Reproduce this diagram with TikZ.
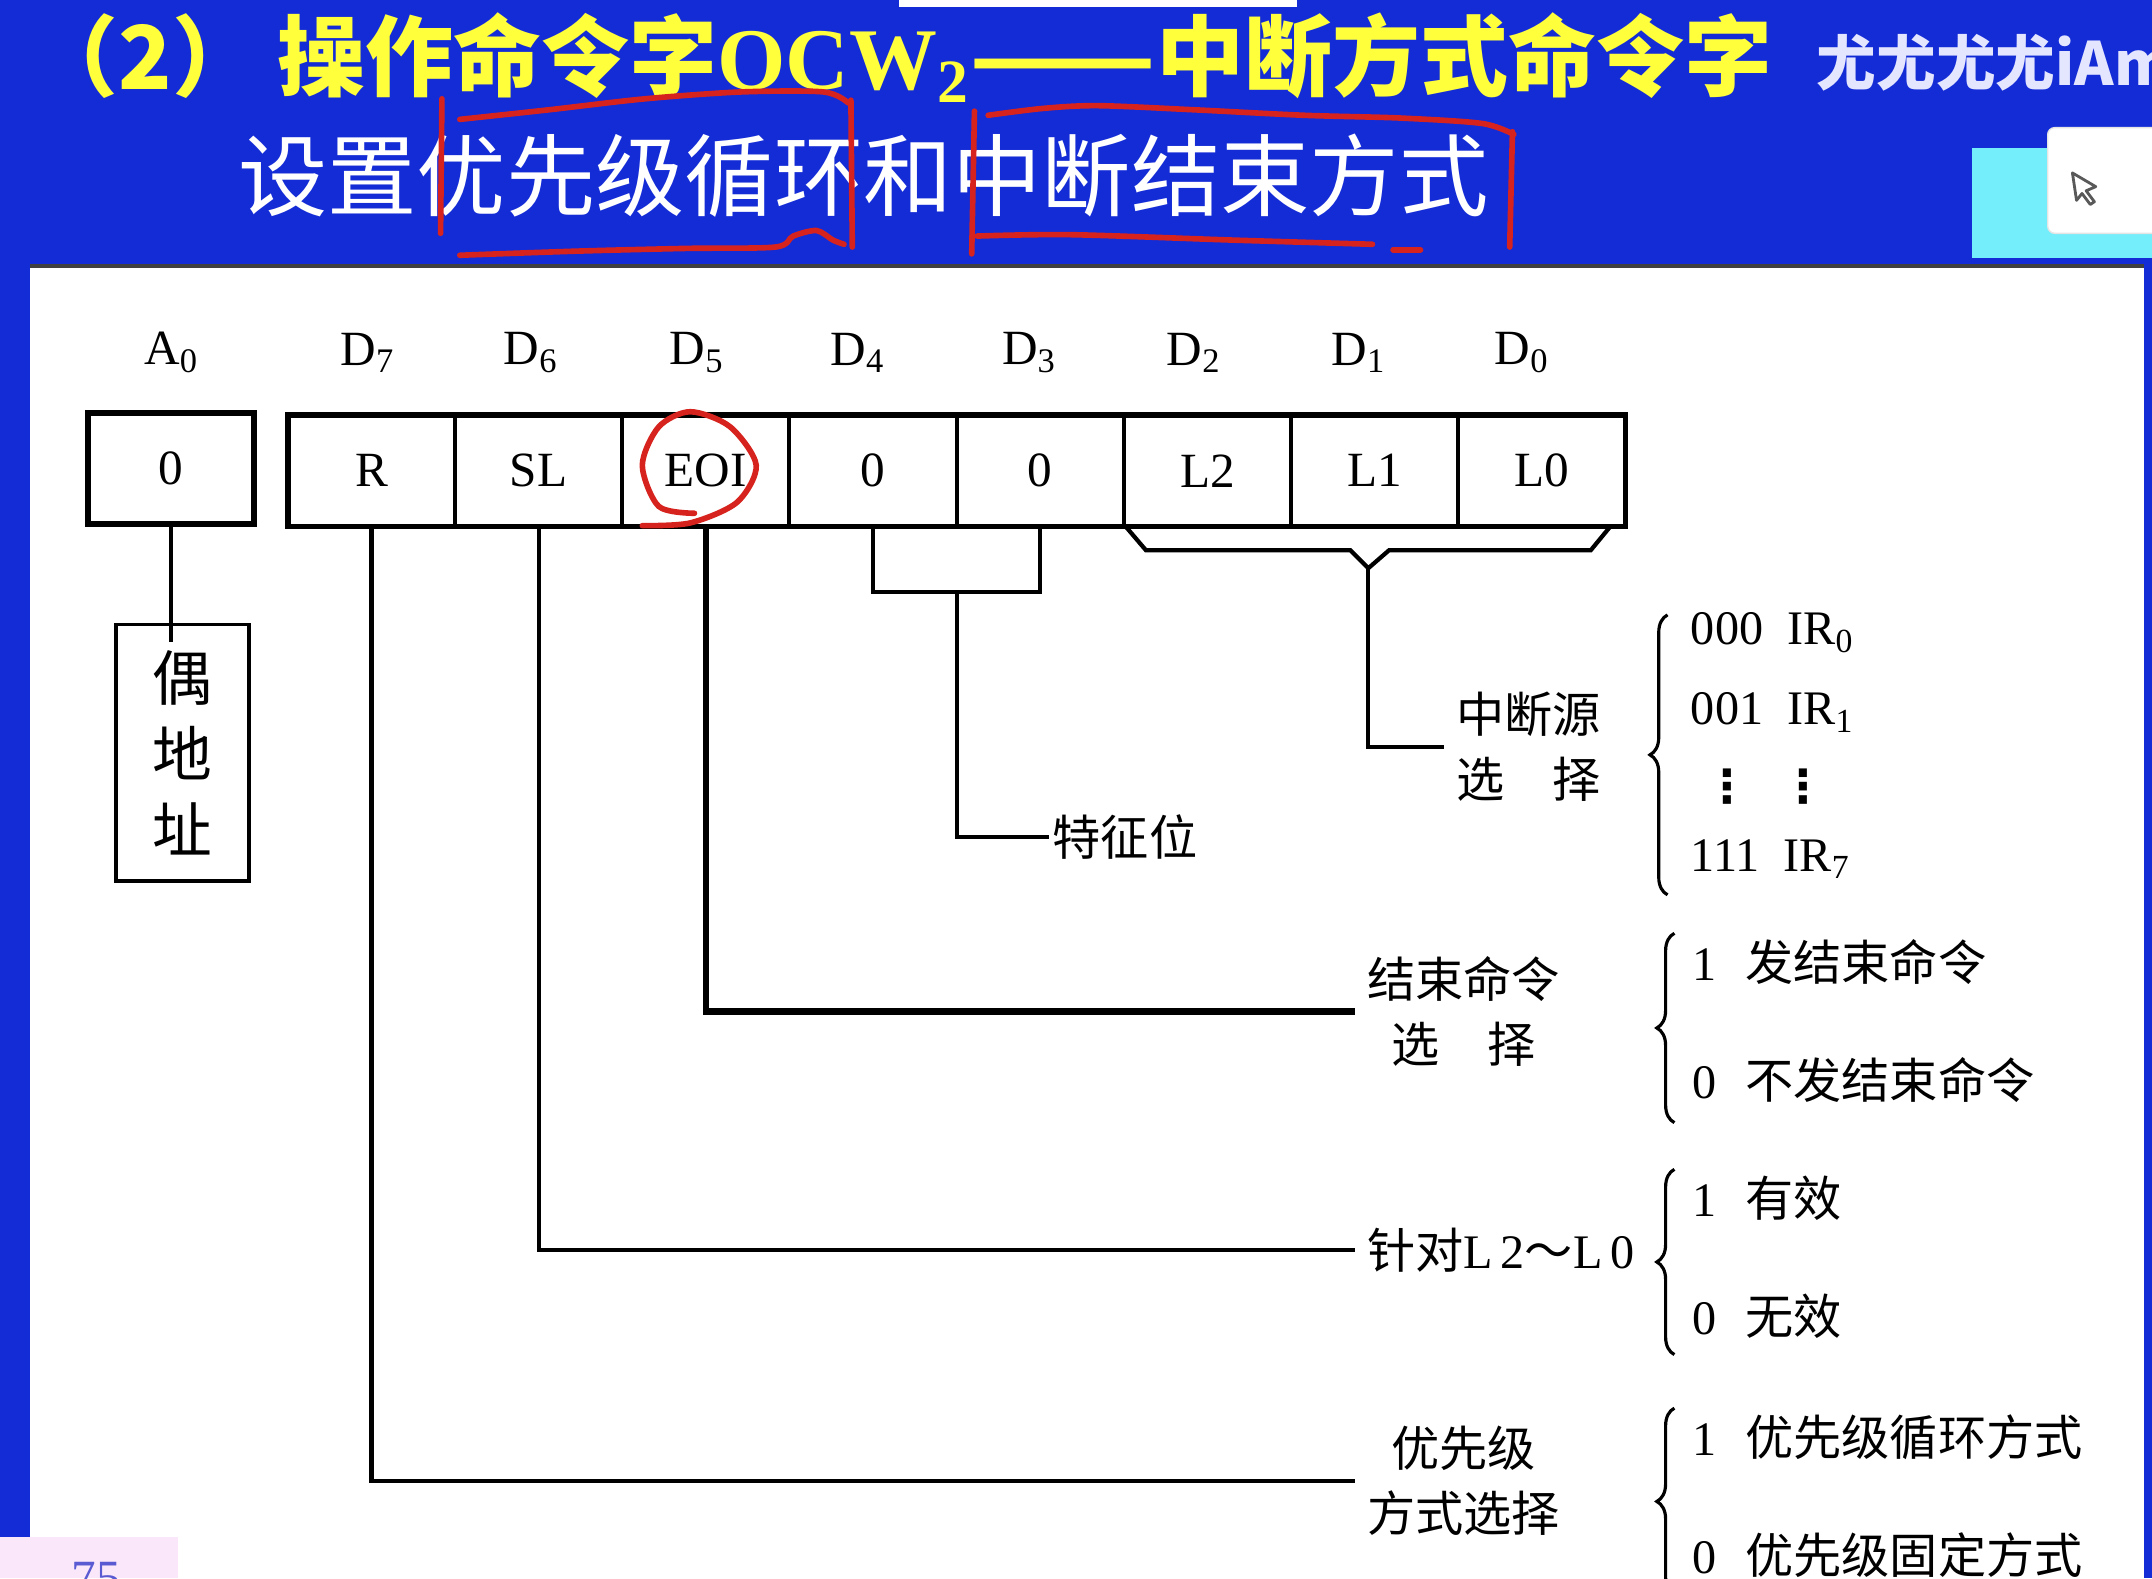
\documentclass[tikz,border=0pt]{standalone}
\usepackage{fontspec}
\usepackage{graphicx}
\setmainfont{Liberation Serif}
\newfontfamily\cjk{Noto Sans CJK SC}
\newfontfamily\symf{DejaVu Sans}
\usetikzlibrary{matrix,positioning,decorations.pathreplacing}

\definecolor{slideblue}{RGB}{20,44,214}
\definecolor{titleyellow}{RGB}{255,255,60}
\definecolor{penred}{RGB}{215,35,30}
\definecolor{widgetcyan}{RGB}{115,238,250}
\definecolor{pagepink}{RGB}{250,232,250}
\definecolor{markwhite}{RGB}{228,230,255}
\definecolor{pageblue}{RGB}{90,90,210}

\tikzset{
	cjklbl/.style={anchor=west, align=center, font=\cjk\fontsize{13.7}{18.5}\selectfont},
	item/.style={anchor=west, inner sep=1pt, font=\fontsize{13.7}{16}\selectfont},
	wire/.style={line width=1.2pt},
	bigbrace/.style={decorate, decoration={brace, amplitude=5pt}, line width=0.9pt},
	pen/.style={penred, line width=1.6pt, line cap=round, line join=round},
}

\begin{document}
\begin{tikzpicture}[x=0.013724cm, y=-0.013724cm, every node/.style={font=\fontsize{14}{17}\selectfont}]
	\useasboundingbox (0,0) rectangle (1568,1150);
	% slide
	\fill[slideblue] (0,0) rectangle (1568,1150);
	\fill[white] (655,0) rectangle (945,5);
	\fill[white] (22,194) rectangle (1562,1150);
	\draw[black!75, line width=1pt] (22,194) -- (1562,194);
	\fill[widgetcyan] (1437,108) rectangle (1568,188);
	\filldraw[fill=white, draw=black!10, rounded corners=2pt] (1492,93) rectangle (1580,170);
	\draw[black!65, line width=0.8pt, line join=round] (1510,126) -- (1527,136) -- (1520,139) -- (1526,147) -- (1523,149) -- (1517,141) -- (1513,146) -- cycle;
	\fill[pagepink] (0,1120) rectangle (130,1150);
	\node[anchor=north, text=pageblue, inner sep=0pt] (pageno) at (70,1138) {75};

	% titles
	\node[anchor=west, inner sep=0pt, text=titleyellow, font=\cjk\bfseries\fontsize{25}{30}\selectfont] (title) at (22,42) {（2）\hspace{5pt}操作命令字{\rmfamily OCW\textsubscript{2}}\scalebox{1.24}[1]{——}中断方式命令字};
	\node[anchor=west, inner sep=0pt, text=markwhite, font=\cjk\bfseries\fontsize{17}{20}\selectfont] (mark) at (1323,46) {尤尤尤尤iAm};
	\node[anchor=west, inner sep=0pt, text=white, font=\cjk\fontsize{25.4}{30}\selectfont] (subtitle) at (173,128) {设置优先级循环和中断结束方式};

	% register
	\node[draw, line width=1.6pt, minimum width=1.66cm, minimum height=1.11cm] (A0) at (124.5,341.5) {0};
	\matrix (R) [matrix of nodes, nodes={draw, line width=1.1pt, minimum width=1.671cm, minimum height=1.112cm, outer sep=0pt, anchor=center}, column sep=-1.1pt, inner sep=0pt] at (697,343) {
		R & SL & EOI & 0 & 0 & L2 & L1 & L0 \\
	};
	\draw[line width=1.6pt] (R-1-1.north west) rectangle (R-1-8.south east);
	\node (a0lbl) at (125,257) {A\textsubscript{0}};
	\node (d7) at (268,257) {D\textsubscript{7}};
	\node (d6) at (387,257) {D\textsubscript{6}};
	\node (d5) at (508,257) {D\textsubscript{5}};
	\node (d4) at (625,257) {D\textsubscript{4}};
	\node (d3) at (750,257) {D\textsubscript{3}};
	\node (d2) at (870,257) {D\textsubscript{2}};
	\node (d1) at (990,257) {D\textsubscript{1}};
	\node (d0) at (1109,257) {D\textsubscript{0}};

	% even address
	\node[draw, line width=1pt, minimum width=1.331cm, minimum height=2.566cm, align=center, font=\cjk\fontsize{17}{21.7}\selectfont] (even) at (133,548.5) {偶\\地\\址};
	\draw[wire] (A0.south) -- ([yshift=-0.19cm]A0.south |- even.north);

	% labels
	\node[cjklbl] (srcsel) at (1052,544) {中断源\\选　择};
	\node[cjklbl, inner sep=1pt] (featlbl) at (764,610) {特征位};
	\node[cjklbl] (eoisel) at (987,737) {结束命令\\选　择};
	\node[cjklbl] (slsel) at (987,911) {针对{\rmfamily L\,2}～{\rmfamily L\,0}};
	\node[cjklbl] (prisel) at (987,1079) {优先级\\方式选择};

	\draw[wire] (R-1-1.south) |- (prisel.west);
	\draw[wire] (R-1-2.south) |- (slsel.west);
	\draw[wire, line width=1.8pt] (R-1-3.south) |- (eoisel.west);
	\draw[wire] (R-1-4.south) -- ++(0,48) -| node[coordinate, pos=0.25] (feat) {} (R-1-5.south);
	\draw[wire] (feat) |- (featlbl.west);
	\draw[wire] (820.5,384) -- (835,401) -- (984,401) -- (997,414) coordinate (tip) -- (1012,401) -- (1159,401) -- (1173,384);
	\draw[wire] (tip) |- (srcsel.west);

	% choices
	\draw[bigbrace] (1215,652) -- (1215,448);
	\node[item] (ir0) at (1229,461) {000\hspace{0.5em}IR\textsubscript{0}};
	\node[item] (ir1) at (1229,519) {001\hspace{0.5em}IR\textsubscript{1}};
	\node[item, font=\symf\bfseries\fontsize{13}{15}\selectfont] (irdots) at (1239,573) {⋮\hspace{0.65em}⋮};
	\node[item] (ir7) at (1229,626) {111\hspace{0.5em}IR\textsubscript{7}};

	\draw[bigbrace] (1220,818) -- (1220,680);
	\node[item] (eoi1) at (1230,701) {1\hspace{0.6em}{\cjk 发结束命令}};
	\node[item] (eoi0) at (1230,787) {0\hspace{0.6em}{\cjk 不发结束命令}};

	\draw[bigbrace] (1220,987) -- (1220,852);
	\node[item] (sl1) at (1230,873) {1\hspace{0.6em}{\cjk 有效}};
	\node[item] (sl0) at (1230,959) {0\hspace{0.6em}{\cjk 无效}};

	\draw[bigbrace] (1220,1162) -- (1220,1026);
	\node[item] (pr1) at (1230,1047) {1\hspace{0.6em}{\cjk 优先级循环方式}};
	\node[item] (pr0) at (1230,1133) {0\hspace{0.6em}{\cjk 优先级固定方式}};

	% red pen marks
	\draw[pen] (322,72) -- (321,170);
	\draw[pen] plot[smooth] coordinates {(335,87) (400,80) (470,72) (540,67) (600,67) (618,75)};
	\draw[pen] (620,73) -- (621,180);
	\draw[pen] plot[smooth] coordinates {(335,186) (420,183) (500,181) (565,180) (578,172) (595,168) (607,175) (615,178)};
	\draw[pen] (710,81) -- (708,185);
	\draw[pen] plot[smooth] coordinates {(720,84) (760,79) (800,77) (870,80) (950,84) (1020,86) (1080,90) (1103,98)};
	\draw[pen] (1102,96) -- (1100,180);
	\draw[pen] plot[smooth] coordinates {(712,172) (780,171) (900,175) (1000,178)};
	\draw[pen] (1015,182) -- (1035,182);
	\draw[pen] plot[smooth] coordinates {(506,374) (480,369) (468,339) (480,311) (503,300) (532,311) (551,339) (537,366) (503,381) (468,383)};
\end{tikzpicture}
\end{document}
